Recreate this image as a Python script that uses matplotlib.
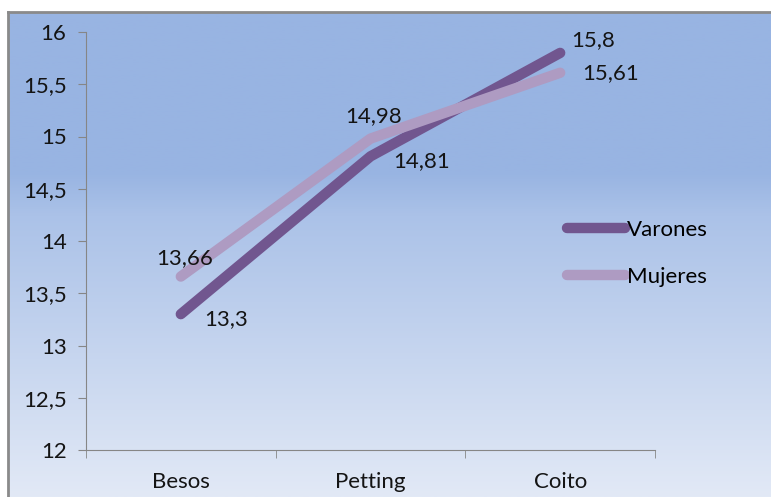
import numpy as np
import matplotlib.pyplot as plt
from matplotlib.colors import LinearSegmentedColormap

# Data
categories = ['Besos', 'Petting', 'Coito']
varones = [13.3, 14.81, 15.8]
mujeres = [13.66, 14.98, 15.61]
yticks = [12, 12.5, 13, 13.5, 14, 14.5, 15, 15.5, 16]
ytick_labels = ['12', '12,5', '13', '13,5', '14', '14,5', '15', '15,5', '16']

c_var = '#71568f'
c_muj = '#ae9bc2'

plt.rcParams['font.family'] = ['Lato', 'DejaVu Sans']

fig = plt.figure(figsize=(7.71, 4.97), dpi=100)

# gradient background with grey border
bg = fig.add_axes([8/771, 0, 1 - 8/771, 1 - 12/497])
cmap = LinearSegmentedColormap.from_list('bg', [(0, '#98b4e2'), (0.33, '#98b4e2'),
                                                (0.42, '#abc2e8'), (1, '#e2e9f6')])
grad = np.linspace(0, 1, 256).reshape(-1, 1)
bg.imshow(grad, aspect='auto', cmap=cmap, extent=[0, 1, 0, 1], origin='upper')
bg.set_xticks([])
bg.set_yticks([])
for s in ['left', 'top']:
    bg.spines[s].set_color('#8a8a8a')
    bg.spines[s].set_linewidth(2)
for s in ['right', 'bottom']:
    bg.spines[s].set_visible(False)

ax = fig.add_axes([86/771, 1 - 450/497, (655-86)/771, (450-32)/497])
ax.patch.set_alpha(0)
x = np.arange(len(categories))
ax.plot(x, varones, color=c_var, lw=7.5, solid_capstyle='round', label='Varones')
ax.plot(x, mujeres, color=c_muj, lw=7.5, solid_capstyle='round', label='Mujeres')

fs = 16
txt = '#141414'
# data labels
ax.annotate('13,3', (0, varones[0]), xytext=(17, 4), textcoords='offset points',
            ha='left', va='top', fontsize=fs, color=txt)
ax.annotate('14,81', (1, varones[1]), xytext=(16, 4), textcoords='offset points',
            ha='left', va='top', fontsize=fs, color=txt)
ax.annotate('15,8', (2, varones[2]), xytext=(8, 2), textcoords='offset points',
            ha='left', va='bottom', fontsize=fs, color=txt)
ax.annotate('13,66', (0, mujeres[0]), xytext=(3, 6), textcoords='offset points',
            ha='center', va='bottom', fontsize=fs, color=txt)
ax.annotate('14,98', (1, mujeres[1]), xytext=(2, 9), textcoords='offset points',
            ha='center', va='bottom', fontsize=fs, color=txt)
ax.annotate('15,61', (2, mujeres[2]), xytext=(16, 0), textcoords='offset points',
            ha='left', va='center', fontsize=fs, color=txt)

ax.set_xlim(-0.5, 2.5)
ax.set_ylim(12, 16)
ax.set_yticks(yticks)
ax.set_yticklabels(ytick_labels, fontsize=fs, color=txt)
ax.set_xticks(x)
ax.set_xticklabels(categories, fontsize=fs, color=txt)
ax.set_xticks([-0.5, 0.5, 1.5, 2.5], minor=True)
ax.tick_params(axis='x', which='major', length=0, pad=16)
ax.tick_params(axis='x', which='minor', length=6, color='#868686')
ax.tick_params(axis='y', length=6, color='#868686', pad=8)
for s in ['top', 'right']:
    ax.spines[s].set_visible(False)
for s in ['left', 'bottom']:
    ax.spines[s].set_color('#868686')

ax.legend(loc='center left', bbox_to_anchor=(0.845, 0.47), frameon=False,
          fontsize=fs, handlelength=2.6, handletextpad=0.1, labelspacing=1.2,
          borderpad=0, borderaxespad=0)

plt.savefig('out.png', dpi=100)
